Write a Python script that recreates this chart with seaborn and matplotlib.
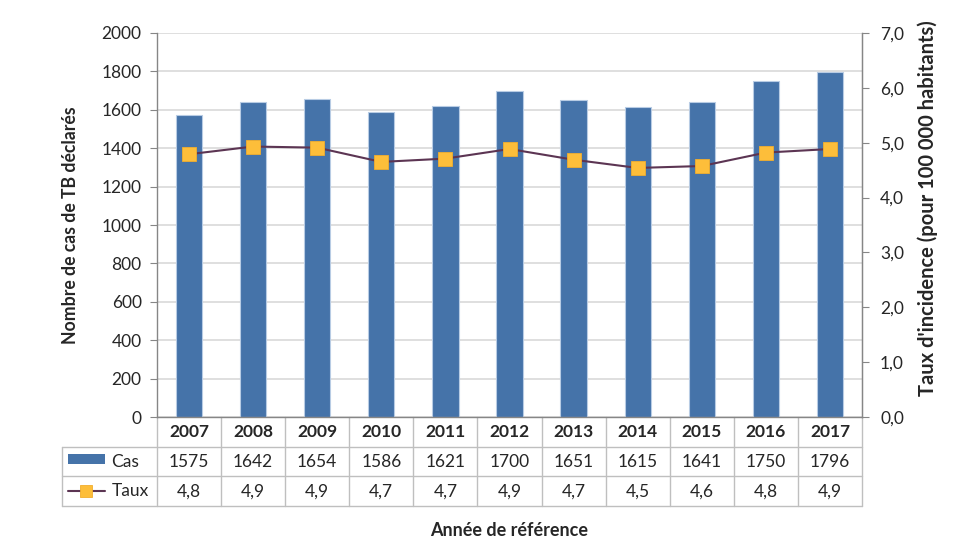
import numpy as np
import pandas as pd
import matplotlib.pyplot as plt
import seaborn as sns
from matplotlib.lines import Line2D
from matplotlib.patches import Rectangle

annees = ['2007', '2008', '2009', '2010', '2011', '2012', '2013', '2014', '2015', '2016', '2017']
cas = [1575, 1642, 1654, 1586, 1621, 1700, 1651, 1615, 1641, 1750, 1796]
taux = [4.79, 4.93, 4.91, 4.65, 4.71, 4.885, 4.69, 4.54, 4.575, 4.82, 4.885]
taux_affiche = ['4,8', '4,9', '4,9', '4,7', '4,7', '4,9', '4,7', '4,5', '4,6', '4,8', '4,9']

bleu = '#4573A9'
jaune = '#FDBE3A'
violet = '#5C3553'
gris = '#BFBFBF'
fs = 12.5

sns.set_style('white')
plt.rcParams['font.family'] = ['Lato', 'DejaVu Sans']

df = pd.DataFrame({'annee': annees, 'cas': cas})

fig = plt.figure(figsize=(9.8, 5.57), dpi=100)
ax = fig.add_axes([0.1602, 0.2513, 0.7194, 0.6895])

sns.barplot(data=df, x='annee', y='cas', order=annees, color=bleu, width=0.41,
            edgecolor='#B8CCE4', linewidth=0.8, saturation=1, ax=ax, zorder=2)
ax.set_xlim(-0.5, len(annees) - 0.5)
ax.set_ylim(0, 2000)
ax.set_yticks(range(0, 2001, 200))
ax.yaxis.grid(True, color='#D9D9D9', linewidth=1.2, zorder=0)
ax.set_axisbelow(True)
ax.set_xticks([])
ax.set_xlabel('')
ax.set_ylabel('Nombre de cas de TB déclarés', fontsize=12.7, fontweight='bold')
ax.yaxis.set_label_coords(-0.11, 0.5)
ax.tick_params(axis='y', labelsize=fs, length=5, color='#868686', direction='out', pad=6)
ax.spines['top'].set_visible(False)
for s in ['left', 'bottom', 'right']:
    ax.spines[s].set_color('#868686')
    ax.spines[s].set_linewidth(1)

ax2 = ax.twinx()
ax2.plot(np.arange(len(taux)), taux, color=violet, linewidth=1.5, marker='s',
         markersize=10, markerfacecolor=jaune, markeredgecolor='#F2AE2E', markeredgewidth=0.6, zorder=3)
ax2.set_ylim(0, 7)
ax2.set_yticks(np.arange(0, 7.01, 1))
ax2.set_yticklabels([f'{v:.1f}'.replace('.', ',') for v in np.arange(0, 7.01, 1)])
ax2.tick_params(axis='y', labelsize=fs, length=5, color='#868686', direction='out', pad=8)
ax2.set_ylabel("Taux d'incidence (pour 100 000 habitants)", fontsize=14.5, fontweight='bold')
ax2.yaxis.set_label_coords(1.078, 0.545)
for s in ['top', 'left', 'bottom']:
    ax2.spines[s].set_visible(False)
ax2.spines['right'].set_color('#868686')

# tableau de données sous le graphique
tr = ax.get_xaxis_transform()
y_lignes = [-0.078, -0.1536, -0.2318]
x_gauche = -0.1348
for y in y_lignes:
    ax.add_line(Line2D([x_gauche, 1], [y, y], transform=ax.transAxes, color=gris, lw=1, clip_on=False))
ax.add_line(Line2D([x_gauche, x_gauche], [y_lignes[0], y_lignes[-1]], transform=ax.transAxes,
                   color=gris, lw=1, clip_on=False))
for i in range(len(annees) + 1):
    ax.add_line(Line2D([i - 0.5, i - 0.5], [0, y_lignes[-1]], transform=tr, color=gris, lw=1, clip_on=False))

for i, a in enumerate(annees):
    ax.text(i, -0.039, a, transform=tr, ha='center', va='center', fontsize=fs, fontweight='bold')
    ax.text(i, -0.116, str(cas[i]), transform=tr, ha='center', va='center', fontsize=fs)
    ax.text(i, -0.193, taux_affiche[i], transform=tr, ha='center', va='center', fontsize=fs)

# légende dans la colonne de gauche
ax.add_patch(Rectangle((-0.1263, -0.1225), 0.0525, 0.026, transform=ax.transAxes,
                       facecolor=bleu, edgecolor='none', clip_on=False))
ax.text(-0.0645, -0.116, 'Cas', transform=ax.transAxes, ha='left', va='center', fontsize=fs)
ax.add_line(Line2D([-0.1263, -0.0738], [-0.193, -0.193], transform=ax.transAxes, color=violet,
                   lw=1.5, clip_on=False))
ax.add_line(Line2D([-0.1], [-0.193], transform=ax.transAxes, marker='s', markersize=8,
                   markerfacecolor=jaune, markeredgecolor='#F2AE2E', markeredgewidth=0.6, clip_on=False))
ax.text(-0.0645, -0.193, 'Taux', transform=ax.transAxes, ha='left', va='center', fontsize=fs)

ax.text(0.5, -0.295, 'Année de référence', transform=ax.transAxes, ha='center', va='center',
        fontsize=13, fontweight='bold')

fig.savefig('out.png', dpi=100)
